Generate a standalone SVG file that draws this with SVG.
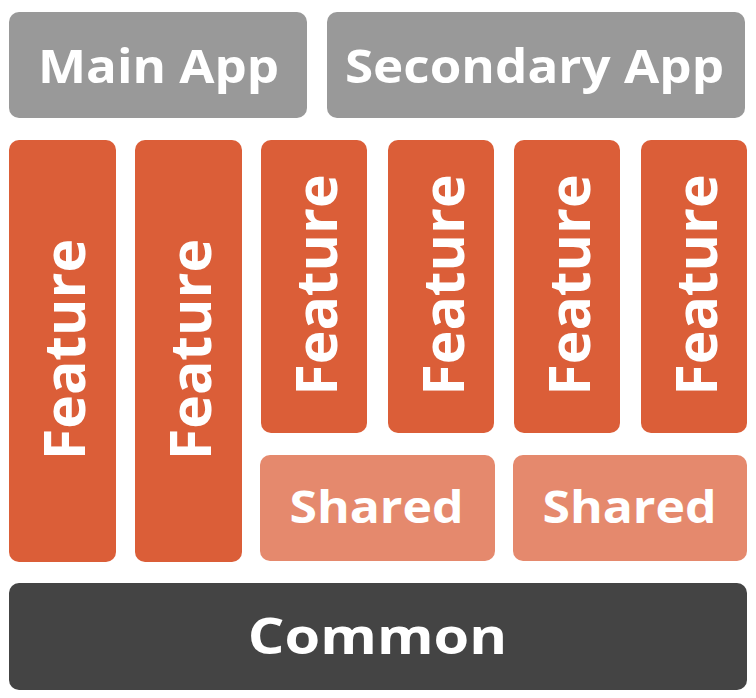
<svg xmlns="http://www.w3.org/2000/svg" width="756" height="698" viewBox="0 0 756 698">
<style>
.t{font-family:"Open Sans","Noto Sans",sans-serif;font-weight:700;fill:#fff;text-anchor:middle}
.a{font-size:46px}
.f{font-size:57px}
.s{font-size:45px}
.c{font-size:50px}
.app{fill:#999999}
.feat{fill:#DB5E38}
.sh{fill:#E5896D}
.com{fill:#444444}
</style>
<rect width="756" height="698" fill="#fff"/>
<g id="main-app"><rect class="app" x="9" y="12" width="298" height="106" rx="10"/><text class="t a" transform="translate(158.5,83) scale(1.11,1)">Main App</text></g>
<g id="secondary-app"><rect class="app" x="327" y="12" width="418" height="106" rx="10"/><text class="t a" transform="translate(534.5,83) scale(1.113,1)">Secondary App</text></g>
<g id="feature1"><rect class="feat" x="9" y="140" width="107" height="422" rx="10"/><text class="t f" transform="translate(85,349.5) rotate(-90)">Feature</text></g>
<g id="feature2"><rect class="feat" x="135" y="140" width="107" height="422" rx="10"/><text class="t f" transform="translate(211,349.5) rotate(-90)">Feature</text></g>
<g id="feature3"><rect class="feat" x="261" y="140" width="106" height="293" rx="10"/><text class="t f" transform="translate(337,285) rotate(-90)">Feature</text></g>
<g id="feature4"><rect class="feat" x="388" y="140" width="106" height="293" rx="10"/><text class="t f" transform="translate(464,285) rotate(-90)">Feature</text></g>
<g id="feature5"><rect class="feat" x="514" y="140" width="106" height="293" rx="10"/><text class="t f" transform="translate(590,285) rotate(-90)">Feature</text></g>
<g id="feature6"><rect class="feat" x="641" y="140" width="106" height="293" rx="10"/><text class="t f" transform="translate(717,285) rotate(-90)">Feature</text></g>
<g id="shared1"><rect class="sh" x="260" y="455" width="235" height="106" rx="10"/><text class="t s" transform="translate(376.5,523) scale(1.11,1)">Shared</text></g>
<g id="shared2"><rect class="sh" x="513" y="455" width="234" height="106" rx="10"/><text class="t s" transform="translate(629.5,523) scale(1.11,1)">Shared</text></g>
<g id="common"><rect class="com" x="9" y="583" width="738" height="107" rx="10"/><text class="t c" transform="translate(377.5,654) scale(1.154,1)">Common</text></g>
<g id="connectors"/>
</svg>
